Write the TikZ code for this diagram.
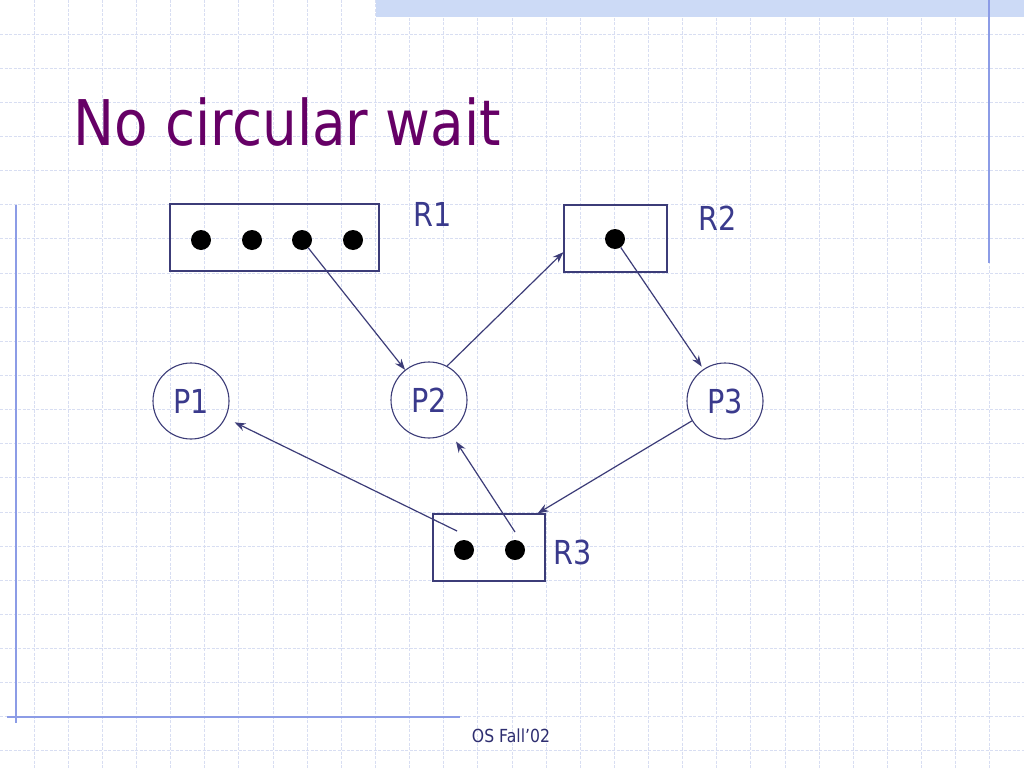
\documentclass[tikz,border=0pt]{standalone}
\usepackage{fontspec}
\setmainfont{DejaVu Sans}[FakeStretch=0.87]
\usepackage{tikz}
\usetikzlibrary{arrows.meta, calc}
\definecolor{titlec}{HTML}{660066}
\definecolor{labc}{HTML}{3A3A8C}
\definecolor{linec}{HTML}{3C3C78}
\definecolor{gridc}{HTML}{D8DEF2}
\definecolor{rulec}{HTML}{8C9CE6}
\definecolor{barc}{HTML}{CCDAF6}

\begin{document}
\begin{tikzpicture}[x=1pt, y=-1pt,
    gridline/.style={gridc, line width=1pt, dash pattern=on 3pt off 1.5pt},
    res/.style={draw=linec, line width=1.2pt, inner sep=0pt},
    tok/.style={circle, fill=black, inner sep=0pt, minimum size=20pt},
    proc/.style={circle, draw=linec, line width=1.1pt, minimum size=76pt, inner sep=0pt,
        text=labc, font=\fontsize{33}{33}\selectfont},
    lbl/.style={text=labc, font=\fontsize{33}{33}\selectfont},
    arc/.style={draw=linec, line width=1.2pt, ->, >={Stealth[length=11pt, width=8pt]}}]
    \useasboundingbox (0,0) rectangle (1024,768);
    \fill[white] (0,0) rectangle (1024,768);

    % background grid
    \foreach \i in {1,...,29}
        \draw[gridline] (\i*34.133,0) -- (\i*34.133,768);
    \foreach \j in {1,...,22}
        \draw[gridline] (0,\j*34.133) -- (1024,\j*34.133);

    % slide frame
    \fill[barc] (376,0) rectangle (1024,17);
    \draw[rulec, line width=1.5pt] (989,0) -- (989,263);
    \draw[rulec, line width=1.5pt] (16,205) -- (16,723);
    \draw[rulec, line width=1.5pt] (7,717) -- (460,717);

    \node[titlec, anchor=base west, font=\fontsize{63}{63}\selectfont] (title) at (70,145) {No circular wait};

    % resources
    \node[res, minimum width=209pt, minimum height=67pt] (r1) at (274.5,237.5) {};
    \node[tok] (d11) at (201,240) {};
    \node[tok] (d12) at (252,240) {};
    \node[tok] (d13) at (302,240) {};
    \node[tok] (d14) at (353,240) {};
    \node[lbl] (r1l) at (433,214) {R1};

    \node[res, minimum width=103pt, minimum height=67pt] (r2) at (615.5,238.5) {};
    \node[tok] (d21) at (615,239) {};
    \node[lbl] (r2l) at (718,218) {R2};

    \node[res, minimum width=112pt, minimum height=67pt] (r3) at (489,547.5) {};
    \node[tok] (d31) at (464,550) {};
    \node[tok] (d32) at (515,550) {};
    \node[lbl] (r3l) at (573,552) {R3};

    % processes
    \node[proc] (p1) at (191,401) {P1};
    \node[proc] (p2) at (429,400) {P2};
    \node[proc] (p3) at (725,401) {P3};

    % edges
    \draw[arc] (d13) -- (p2);
    \draw[arc] (p2.62) -- ($(r2.west)!0.4!(r2.south west)$);
    \draw[arc, shorten >=3pt] (d21) -- (p3);
    \draw[arc] (p3) -- ($(r3.north east)+(-8,0)$);
    \draw[arc, shorten >=10pt] ([shift={(-7,-19)}]d31.center) -- (p1);
    \draw[arc, shorten >=11pt] ([shift={(0,-18)}]d32.center) -- (p2);

    \node[labc!80!black, font=\fontsize{18}{18}\selectfont] (foot) at (511,736) {OS Fall’02};
\end{tikzpicture}
\end{document}
